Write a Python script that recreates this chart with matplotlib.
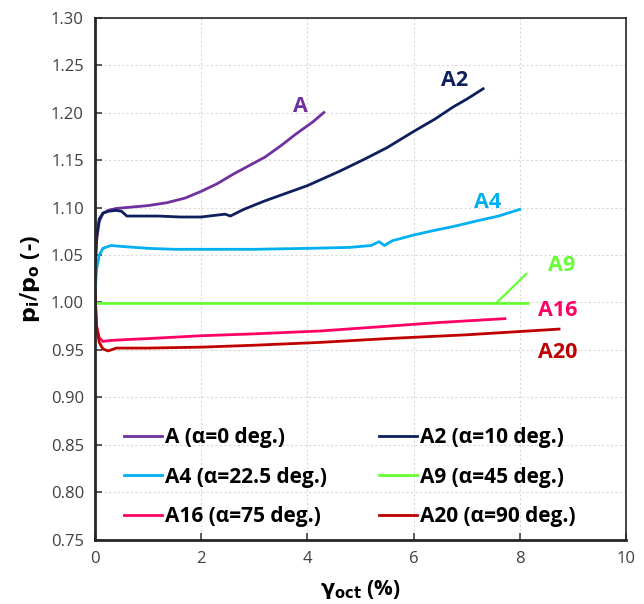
import matplotlib
matplotlib.use("Agg")
import matplotlib.pyplot as plt

plt.rcParams['font.family'] = ['Open Sans', 'DejaVu Sans']

# Octahedral shear strain (%) and pressure ratio pi/po for each test
a_x = [0, 0.03, 0.08, 0.15, 0.25, 0.4, 0.6, 0.8, 1.0, 1.35, 1.7, 2.0, 2.3, 2.6,
       2.9, 3.2, 3.5, 3.8, 4.1, 4.31]
a_y = [1.035, 1.065, 1.085, 1.094, 1.097, 1.099, 1.100, 1.101, 1.102, 1.105,
       1.110, 1.117, 1.125, 1.135, 1.144, 1.153, 1.165, 1.178, 1.190, 1.200]

a2_x = [0, 0.03, 0.08, 0.15, 0.25, 0.4, 0.5, 0.6, 0.8, 1.2, 1.6, 2.0, 2.3, 2.45,
        2.55, 2.8, 3.2, 3.6, 4.0, 4.24, 4.6, 5.08, 5.5, 6.0, 6.4, 6.75, 7.0, 7.31]
a2_y = [1.030, 1.070, 1.088, 1.094, 1.096, 1.097, 1.096, 1.091, 1.091, 1.091,
        1.090, 1.090, 1.092, 1.093, 1.091, 1.098, 1.107, 1.115, 1.123, 1.129,
        1.138, 1.151, 1.163, 1.180, 1.193, 1.206, 1.214, 1.225]

a4_x = [0, 0.03, 0.08, 0.15, 0.3, 0.5, 1.0, 1.5, 2.0, 3.0, 4.0, 4.8, 5.2, 5.35,
        5.45, 5.6, 6.0, 6.4, 6.75, 7.2, 7.6, 8.0]
a4_y = [1.010, 1.035, 1.050, 1.057, 1.060, 1.059, 1.057, 1.056, 1.056, 1.056,
        1.057, 1.058, 1.060, 1.064, 1.060, 1.065, 1.071, 1.076, 1.080, 1.086,
        1.091, 1.098]

a9_x = [0, 0.05, 2.0, 4.0, 6.0, 8.16]
a9_y = [1.000, 0.999, 0.999, 0.999, 0.999, 0.999]

a16_x = [0, 0.03, 0.08, 0.15, 0.28, 0.6, 1.0, 2.0, 3.0, 4.24, 5.5, 6.5, 7.72]
a16_y = [1.010, 0.975, 0.963, 0.959, 0.960, 0.961, 0.962, 0.965, 0.967, 0.970,
         0.975, 0.979, 0.983]

a20_x = [0, 0.03, 0.08, 0.15, 0.25, 0.4, 1.0, 2.0, 3.0, 4.24, 5.5, 7.0, 8.74]
a20_y = [1.010, 0.975, 0.958, 0.951, 0.949, 0.952, 0.952, 0.953, 0.955, 0.958,
         0.962, 0.966, 0.972]

series = [
    ("A (α=0 deg.)", a_x, a_y, "#7030A0"),
    ("A2 (α=10 deg.)", a2_x, a2_y, "#0D1F5C"),
    ("A4 (α=22.5 deg.)", a4_x, a4_y, "#00B0F0"),
    ("A9 (α=45 deg.)", a9_x, a9_y, "#66FF33"),
    ("A16 (α=75 deg.)", a16_x, a16_y, "#FF0066"),
    ("A20 (α=90 deg.)", a20_x, a20_y, "#C00000"),
]

# Short tags next to each curve
tags = [
    ("A", 3.86, 1.206, "#7030A0"),
    ("A2", 6.78, 1.234, "#0D1F5C"),
    ("A4", 7.40, 1.105, "#00B0F0"),
    ("A9", 8.78, 1.039, "#66FF33"),
    ("A16", 8.72, 0.992, "#FF0066"),
    ("A20", 8.72, 0.947, "#C00000"),
]

fig = plt.figure(figsize=(6.44, 6.04), dpi=100)
ax = fig.add_axes([0.1475, 0.106, 0.8245, 0.865])

handles = []
for label, xs, ys, c in series:
    h, = ax.plot(xs, ys, color=c, lw=2.0, label=label, solid_joinstyle='round')
    handles.append(h)

# leader line from the A9 curve to its tag
ax.plot([7.55, 8.12], [0.999, 1.030], color="#66FF33", lw=1.6)

for t, x, y, c in tags:
    ax.text(x, y, t, color=c, fontsize=15.5, fontweight='bold',
            ha='center', va='center')

ax.set_xlim(0, 10)
ax.set_ylim(0.75, 1.30)
ax.set_xticks([0, 2, 4, 6, 8, 10])
ax.set_yticks([0.75, 0.80, 0.85, 0.90, 0.95, 1.00, 1.05, 1.10, 1.15, 1.20, 1.25, 1.30])
ax.set_yticklabels([f"{v:.2f}" for v in ax.get_yticks()])
ax.tick_params(direction='in', length=5, width=1.2, labelsize=12,
               labelcolor='#404040', color='#404040', pad=8)
ax.grid(True, color='#D9D9D9', ls=(0, (2, 2)), lw=0.8)
ax.set_axisbelow(True)
for s in ['left', 'bottom']:
    ax.spines[s].set_linewidth(2.0)
    ax.spines[s].set_color('#262626')
for s in ['top', 'right']:
    ax.spines[s].set_linewidth(1.2)
    ax.spines[s].set_color('#262626')

ax.set_xlabel(r"$\mathbf{\gamma_{oct}}$ (%)", fontsize=15, fontweight='bold', labelpad=8)
ax.set_ylabel(r"$\mathbf{p_i/p_o}$ (-)", fontsize=16, fontweight='bold', labelpad=6)

order = [0, 2, 4, 1, 3, 5]
ax.legend([handles[i] for i in order], [series[i][0] for i in order], ncol=2,
          frameon=False, loc='lower left', bbox_to_anchor=(0.02, -0.012),
          prop={'weight': 'bold', 'size': 15}, handlelength=1.8,
          handletextpad=0.15, columnspacing=2.5, labelspacing=0.9)

fig.savefig("out.png", dpi=100)
